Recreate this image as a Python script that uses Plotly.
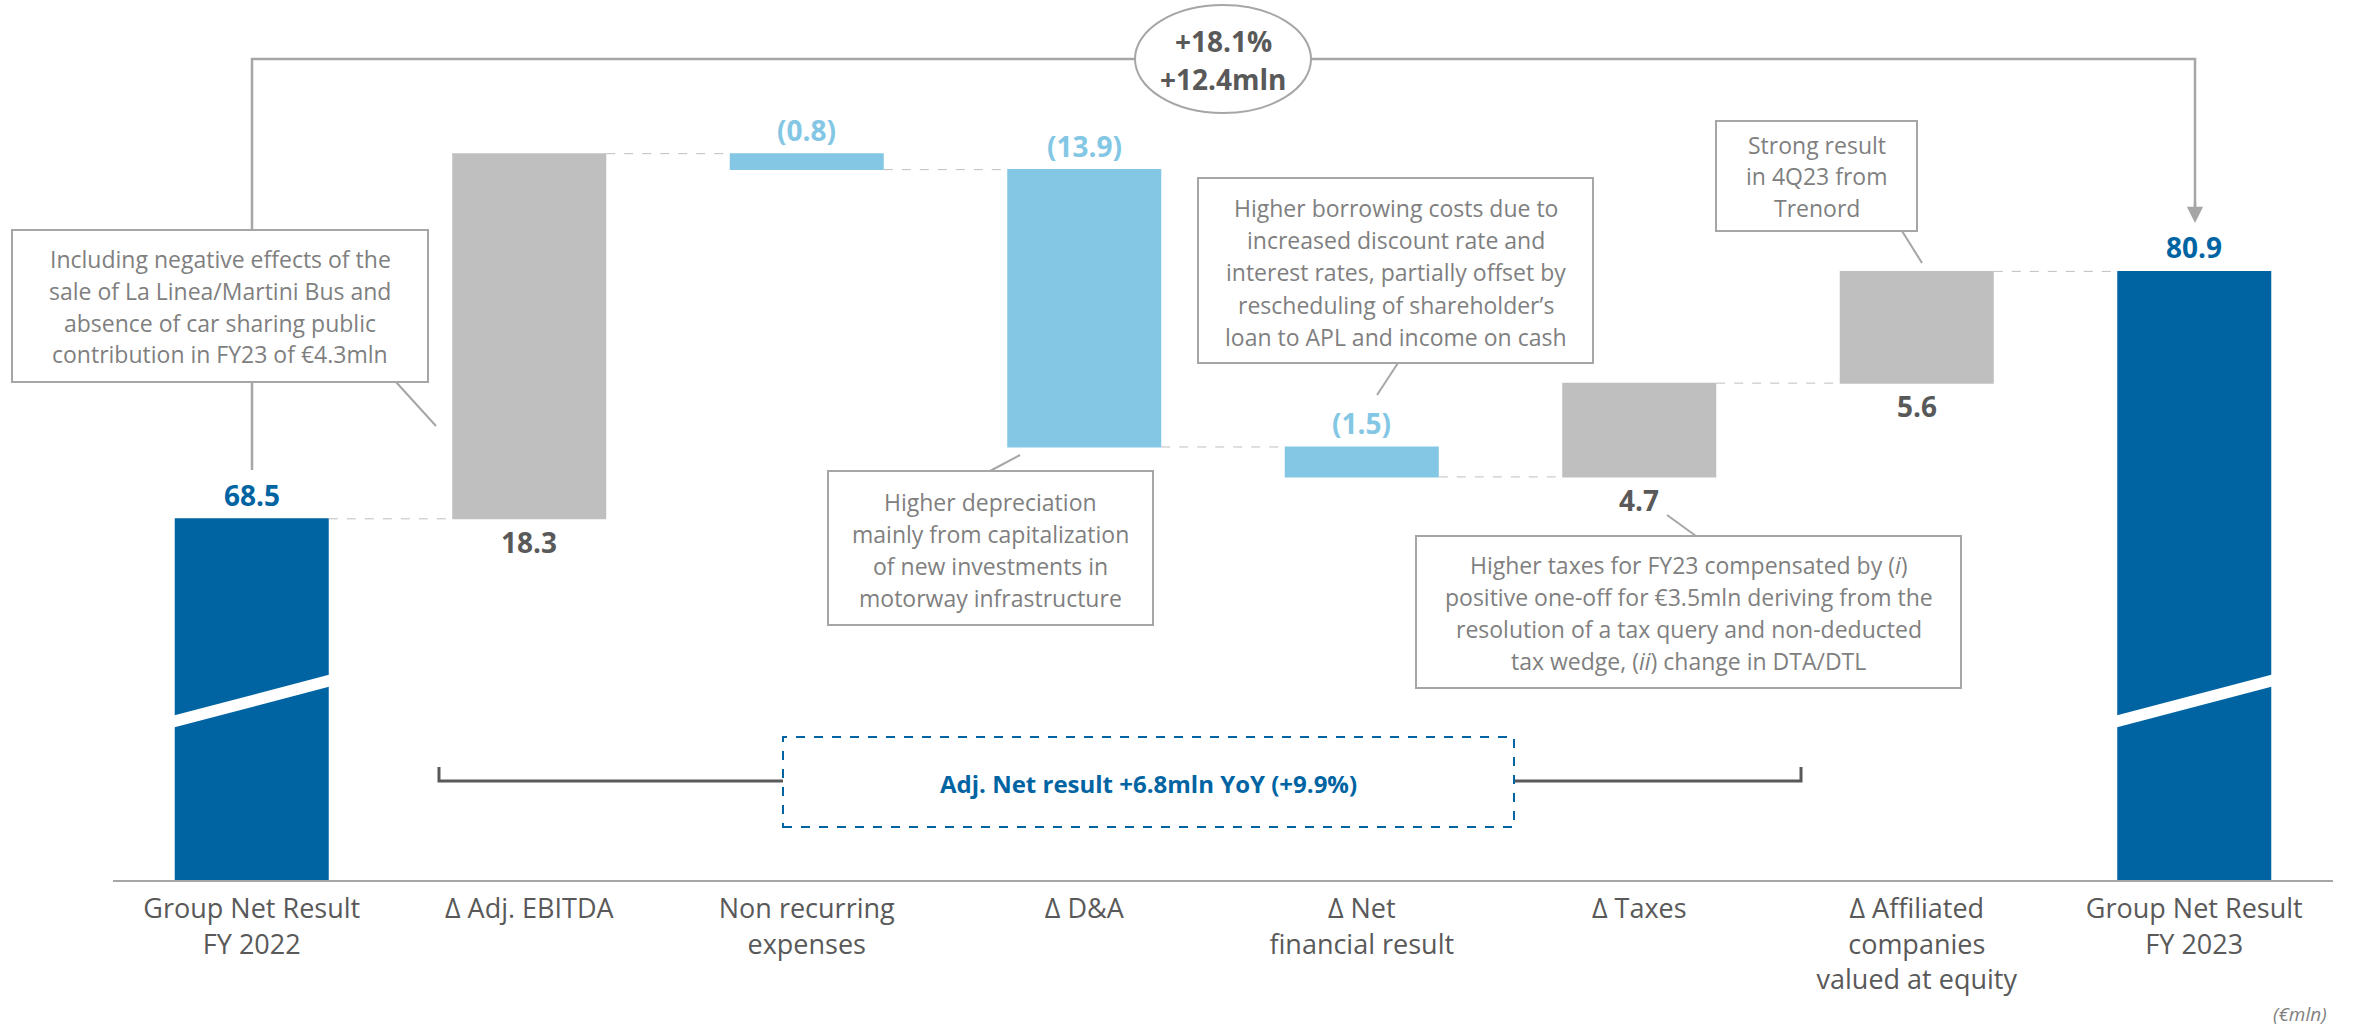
import plotly.graph_objects as go

# ---------------- data ----------------
categories = ["Group Net Result<br>FY 2022", "Δ Adj. EBITDA", "Non recurring<br>expenses", "Δ D&A",
              "Δ Net<br>financial result", "Δ Taxes", "Δ Affiliated<br>companies<br>valued at equity",
              "Group Net Result<br>FY 2023"]
values = [68.5, 18.3, -0.8, -13.9, -1.5, 4.7, 5.6, 80.9]
measures = ["absolute", "relative", "relative", "relative", "relative", "relative", "relative", "total"]
growth_pct = "+18.1%"
growth_abs = "+12.4mln"
adj_note = "Adj. Net result +6.8mln YoY (+9.9%)"
unit_note = "(€mln)"

# ---------------- style ----------------
FONT = "Open Sans"
DARK_BLUE = "#0064A3"
LIGHT_BLUE = "#83C7E5"
GREY_BAR = "#BFBFBF"
LABEL_GREY = "#595959"
BOX_TEXT = "#7F7F7F"
BOX_LINE = "#A6A6A6"

W, H = 2353, 1027
ML, MR, MT, MB = 113, 20, 0, 147
PW, PH = W - ML - MR, H - MT - MB
Y_MIN, Y_MAX = 50.4, 94.5


def px(x):
    return (x - ML) / PW


def py(y):
    return (PH + MT - y) / PH


x_idx = list(range(len(categories)))

fig = go.Figure(go.Waterfall(
    x=x_idx, y=values, measure=measures,
    increasing=dict(marker=dict(color=GREY_BAR)),
    decreasing=dict(marker=dict(color=LIGHT_BLUE)),
    totals=dict(marker=dict(color=DARK_BLUE)),
    connector=dict(line=dict(color="#BFBFBF", width=1, dash="dash")),
    hoverinfo="skip", showlegend=False,
))

shapes = []
annotations = []

# value labels (computed from data)
cum = 0.0
for i, (v, m) in enumerate(zip(values, measures)):
    if m == "absolute":
        start, cum = 0.0, v
        level, shift, col, txt = v, 24, DARK_BLUE, f"{v:.1f}"
    elif m == "total":
        level, shift, col, txt = cum, 24, DARK_BLUE, f"{cum:.1f}"
    else:
        start = cum
        cum = cum + v
        if v >= 0:
            level, shift, col, txt = start, -23, LABEL_GREY, f"{v:.1f}"
        else:
            level, shift, col, txt = start, 24, LIGHT_BLUE, f"({abs(v):.1f})"
    annotations.append(dict(x=i, y=level, xref="x", yref="y", text=f"<b>{txt}</b>", showarrow=False,
                            xanchor="center", yanchor="middle", yshift=shift,
                            font=dict(family=FONT, size=28, color=col)))

# axis break stripes on total bars
for i, m in enumerate(measures):
    if m in ("absolute", "total"):
        cx = ML + PW * (i + 0.5) / len(categories)
        xl, xr = cx - 80, cx + 80
        shapes.append(dict(type="path", xref="paper", yref="paper",
                           path=f"M{px(xl)},{py(716)} L{px(xr)},{py(674)} L{px(xr)},{py(686)} L{px(xl)},{py(728)} Z",
                           fillcolor="white", line=dict(width=0), layer="above"))

# top bracket arrow line
shapes.append(dict(type="path", xref="paper", yref="paper",
                   path=f"M{px(252)},{py(470)} L{px(252)},{py(59)} L{px(2195)},{py(59)} L{px(2195)},{py(212)}",
                   line=dict(color=BOX_LINE, width=2.5)))
annotations.append(dict(x=px(2195), y=py(223), xref="paper", yref="paper", ax=0, ay=-22,
                        axref="pixel", ayref="pixel", text="", showarrow=True, arrowhead=2,
                        arrowsize=1.3, arrowwidth=2.5, arrowcolor=BOX_LINE))

# circle with growth
shapes.append(dict(type="circle", xref="paper", yref="paper", x0=px(1135), x1=px(1311), y0=py(113), y1=py(5),
                   fillcolor="white", line=dict(color=BOX_LINE, width=2)))
for t, yy in ((growth_pct, 41), (growth_abs, 79)):
    annotations.append(dict(x=px(1223), y=py(yy), xref="paper", yref="paper", text=f"<b>{t}</b>",
                            showarrow=False, xanchor="center", yanchor="middle",
                            font=dict(family=FONT, size=28, color=LABEL_GREY)))


def text_box(x0, y0, x1, y1, lines, ys, conn):
    shapes.append(dict(type="line", xref="paper", yref="paper", x0=px(conn[0]), y0=py(conn[1]),
                       x1=px(conn[2]), y1=py(conn[3]), line=dict(color=BOX_LINE, width=2)))
    shapes.append(dict(type="rect", xref="paper", yref="paper", x0=px(x0), x1=px(x1), y0=py(y1), y1=py(y0),
                       fillcolor="white", line=dict(color=BOX_LINE, width=2)))
    for t, yy in zip(lines, ys):
        annotations.append(dict(x=px((x0 + x1) / 2), y=py(yy), xref="paper", yref="paper", text=t,
                                showarrow=False, xanchor="center", yanchor="middle",
                                font=dict(family=FONT, size=23, color=BOX_TEXT)))


text_box(12, 230, 428, 382,
         ["Including negative effects of the", "sale of La Linea/Martini Bus and",
          "absence of car sharing public", "contribution in FY23 of €4.3mln"],
         [259, 291, 323, 354], (396, 382, 436, 426))
text_box(828, 471, 1153, 625,
         ["Higher depreciation", "mainly from capitalization", "of new investments in",
          "motorway infrastructure"],
         [502, 534, 566, 598], (1020, 455, 990, 471))
text_box(1198, 178, 1593, 363,
         ["Higher borrowing costs due to", "increased discount rate and",
          "interest rates, partially offset by", "rescheduling of shareholder’s",
          "loan to APL and income on cash"],
         [208, 240, 272, 305, 337], (1398, 363, 1377, 395))
text_box(1716, 121, 1917, 231,
         ["Strong result", "in 4Q23 from", "Trenord"],
         [145, 176, 208], (1902, 231, 1922, 263))
text_box(1416, 536, 1961, 688,
         ["Higher taxes for FY23 compensated by (<i>i</i>)",
          "positive one-off for €3.5mln deriving from the",
          "resolution of a tax query and non-deducted",
          "tax wedge, (<i>ii</i>) change in DTA/DTL"],
         [565, 597, 629, 661], (1667, 515, 1696, 536))

# adjusted bracket
shapes.append(dict(type="path", xref="paper", yref="paper",
                   path=f"M{px(439)},{py(767)} L{px(439)},{py(781)} L{px(783)},{py(781)}",
                   line=dict(color=LABEL_GREY, width=3)))
shapes.append(dict(type="path", xref="paper", yref="paper",
                   path=f"M{px(1514)},{py(781)} L{px(1801)},{py(781)} L{px(1801)},{py(767)}",
                   line=dict(color=LABEL_GREY, width=3)))
shapes.append(dict(type="rect", xref="paper", yref="paper", x0=px(783), x1=px(1514), y0=py(827), y1=py(737),
                   fillcolor="white", line=dict(color=DARK_BLUE, width=2, dash="dash")))
annotations.append(dict(x=px(1148), y=py(783), xref="paper", yref="paper", text=f"<b>{adj_note}</b>",
                        showarrow=False, xanchor="center", yanchor="middle",
                        font=dict(family=FONT, size=24, color=DARK_BLUE)))

# unit note
annotations.append(dict(x=px(2329), y=py(1014), xref="paper", yref="paper", text=f"<i>{unit_note}</i>",
                        showarrow=False, xanchor="right", yanchor="middle",
                        font=dict(family=FONT, size=19, color=BOX_TEXT)))

fig.update_layout(
    width=W, height=H,
    margin=dict(l=ML, r=MR, t=MT, b=MB),
    paper_bgcolor="white", plot_bgcolor="white",
    waterfallgap=0.445,
    shapes=shapes, annotations=annotations,
    font=dict(family=FONT, color=LABEL_GREY),
    xaxis=dict(tickmode="array", tickvals=x_idx, ticktext=categories, range=[-0.5, len(categories) - 0.5],
               showgrid=False, zeroline=False, showline=True, linecolor=BOX_LINE, linewidth=2,
               ticks="", ticklabelstandoff=4, tickfont=dict(family=FONT, size=27, color=LABEL_GREY)),
    yaxis=dict(range=[Y_MIN, Y_MAX], visible=False, showgrid=False, zeroline=False),
)

fig.write_html("out.html")
